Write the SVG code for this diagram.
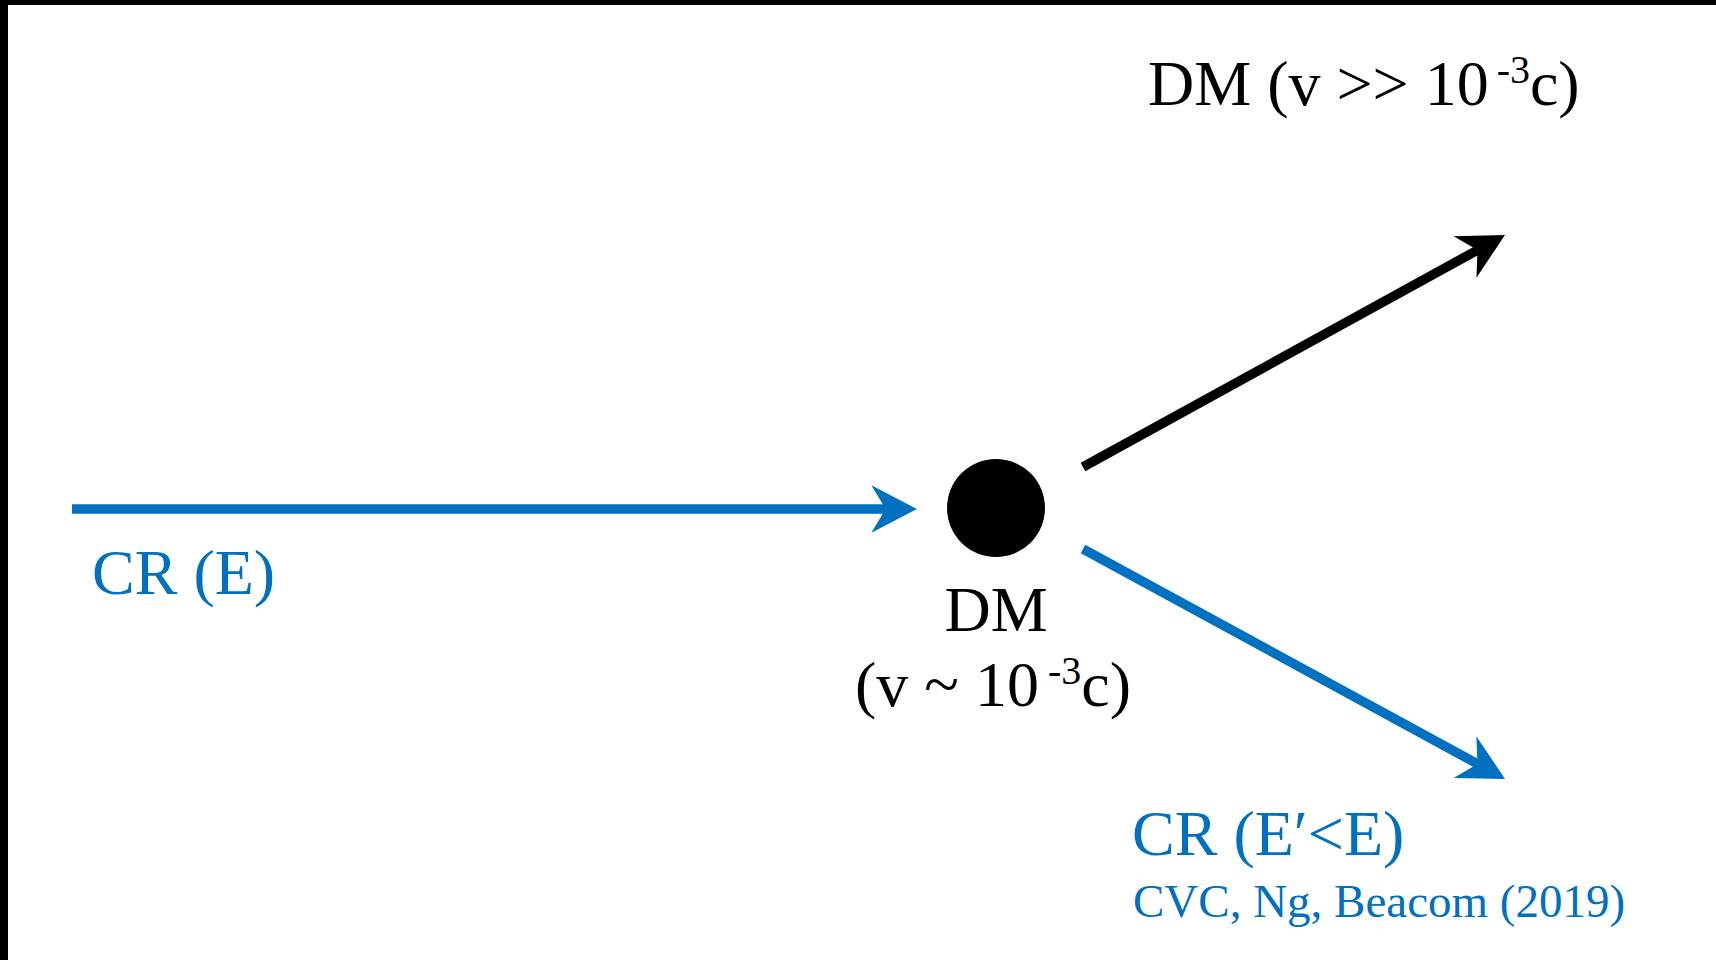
<svg xmlns="http://www.w3.org/2000/svg" width="1716" height="960" viewBox="0 0 1716 960">
  <style>
    .lbl { font-family: "Liberation Serif", "Times New Roman", serif; font-size: 64px; }
    .blk { fill: #000000; }
    .blu { fill: #0070C0; }
    .cite { font-family: "Liberation Serif", "Times New Roman", serif; font-size: 47px; fill: #0070C0; }
    .sup { font-size: 40px; }
    .edge { fill: none; stroke-width: 9.5; stroke-linecap: butt; }
  </style>
  <defs>
    <marker id="stealthBlue" viewBox="-5.2 -2.8 5.4 5.6" refX="-3.3" refY="0" markerWidth="5.4" markerHeight="5.6" markerUnits="strokeWidth" orient="auto">
      <path d="M0,0 L-4.8,-2.5 L-3.3,0 L-4.8,2.5 Z" fill="#0070C0"/>
    </marker>
    <marker id="stealthBlack" viewBox="-5.2 -2.8 5.4 5.6" refX="-3.3" refY="0" markerWidth="5.4" markerHeight="5.6" markerUnits="strokeWidth" orient="auto">
      <path d="M0,0 L-4.8,-2.5 L-3.3,0 L-4.8,2.5 Z" fill="#000000"/>
    </marker>
  </defs>

  <rect x="0" y="0" width="1716" height="960" fill="#ffffff"/>
  <rect x="0" y="0" width="1716" height="5" fill="#000000"/>
  <rect x="0" y="0" width="8" height="960" fill="#000000"/>

  <g id="connectors">
    <line id="edge-cr-in" class="edge" x1="72" y1="509" x2="885.6" y2="509" stroke="#0070C0" marker-end="url(#stealthBlue)"/>
    <line id="edge-dm-out" class="edge" x1="1083" y1="467" x2="1477.5" y2="250.1" stroke="#000000" marker-end="url(#stealthBlack)"/>
    <line id="edge-cr-out" class="edge" x1="1083" y1="549" x2="1477.5" y2="763.9" stroke="#0070C0" marker-end="url(#stealthBlue)"/>
  </g>

  <g id="node-dm">
    <circle cx="996" cy="508" r="49" fill="#000000"/>
    <text class="lbl blk" x="996" y="631" text-anchor="middle">DM</text>
    <text class="lbl blk" x="855" y="706">(v ~ 10<tspan class="sup" dx="9" dy="-22">-3</tspan><tspan dy="22">c)</tspan></text>
  </g>

  <g id="node-cr-in">
    <text class="lbl blu" x="92" y="594">CR (E)</text>
  </g>

  <g id="node-dm-out">
    <text class="lbl blk" x="1148" y="105">DM (v &gt;&gt; 10<tspan class="sup" dx="8" dy="-22">-3</tspan><tspan dy="22">c)</tspan></text>
  </g>

  <g id="node-cr-out">
    <text class="lbl blu" x="1132" y="855">CR (E′&lt;E)</text>
    <text class="cite" x="1133" y="917">CVC, Ng, Beacom (2019)</text>
  </g>
</svg>
